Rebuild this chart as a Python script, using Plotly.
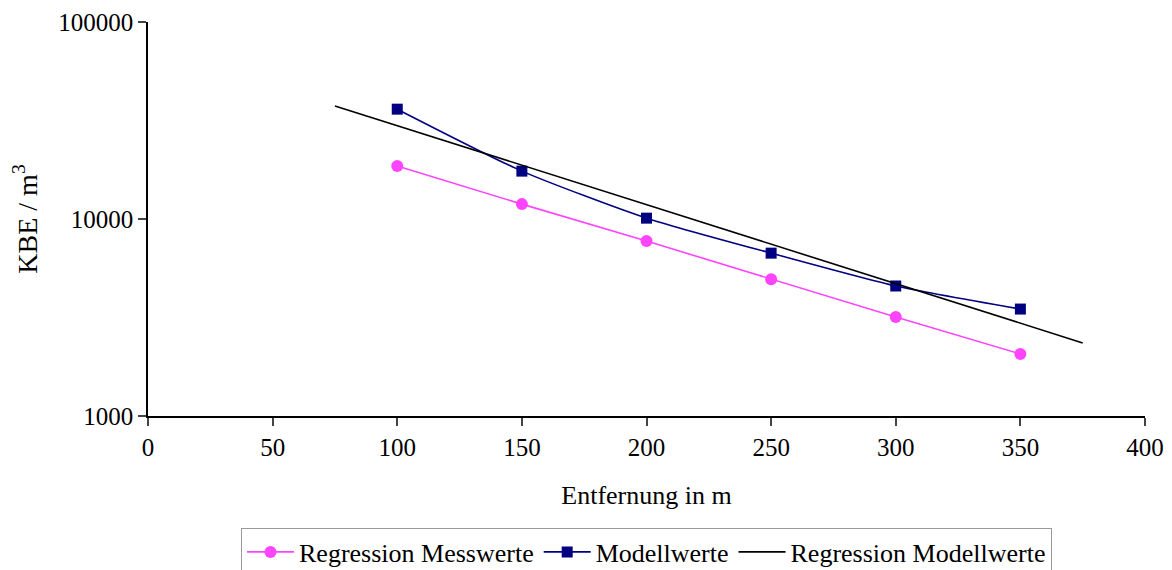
import plotly.graph_objects as go

distance = [100, 150, 200, 250, 300, 350]
regression_messwerte = [18600, 11900, 7730, 4950, 3180, 2065]
modellwerte = [36100, 17500, 10100, 6710, 4570, 3490]
reg_model_x = [75, 375]
reg_model_y = [37500, 2350]

x_ticks = [0, 50, 100, 150, 200, 250, 300, 350, 400]
y_ticks = [1000, 10000, 100000]

font = "Liberation Serif, Times New Roman, serif"

fig = go.Figure()
fig.add_trace(go.Scatter(
    x=distance, y=regression_messwerte, name="Regression Messwerte",
    mode="lines+markers",
    line=dict(color="#FF44FF", width=1.6),
    marker=dict(symbol="circle", size=12, color="#FF44FF"),
))
fig.add_trace(go.Scatter(
    x=distance, y=modellwerte, name="Modellwerte",
    mode="lines+markers",
    line=dict(color="#000080", width=1.6, shape="spline", smoothing=0.6),
    marker=dict(symbol="square", size=11, color="#000080"),
))
fig.add_trace(go.Scatter(
    x=reg_model_x, y=reg_model_y, name="Regression Modellwerte",
    mode="lines",
    line=dict(color="#000000", width=1.6),
))

fig.update_layout(
    width=1172, height=570,
    margin=dict(l=140, r=35, t=14, b=162, autoexpand=False),
    paper_bgcolor="white", plot_bgcolor="white",
    font=dict(family=font, size=22, color="black"),
    showlegend=True,
    legend=dict(
        orientation="h", x=0.5, xanchor="center", y=-0.283, yanchor="top",
        bordercolor="#999999", borderwidth=1,
        font=dict(family=font, size=26, color="black"),
        itemwidth=47, tracegroupgap=0,
    ),
    xaxis=dict(
        range=[0, 400], tickvals=x_ticks, ticks="outside", ticklen=8,
        tickwidth=1.5, showline=True, linecolor="black", linewidth=1.5,
        showgrid=False, zeroline=False, automargin=False,
        tickfont=dict(family=font, size=25, color="black"),
        title=dict(text="Entfernung in m", standoff=26,
                   font=dict(family=font, size=26, color="black")),
    ),
    yaxis=dict(
        type="log", range=[3, 5], tickvals=y_ticks,
        ticktext=[str(v) for v in y_ticks],
        ticks="outside", ticklen=8, tickwidth=1.5,
        showline=True, linecolor="black", linewidth=1.5,
        showgrid=False, zeroline=False, automargin=False,
        tickfont=dict(family=font, size=25, color="black"),
        title=dict(text="KBE / m<sup>3</sup>", standoff=16,
                   font=dict(family=font, size=28, color="black")),
    ),
)

fig.write_html("out.html")
